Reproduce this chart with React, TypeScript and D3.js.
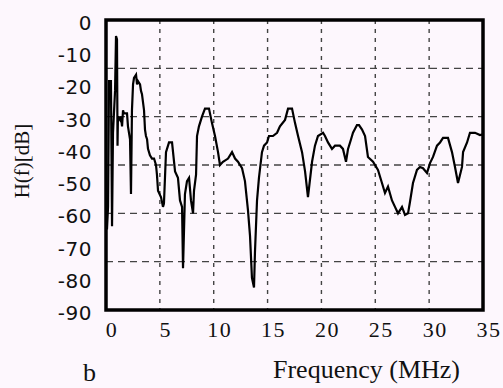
import React from "react";
import * as d3 from "d3";

const freqMHz = [0.09,0.19,0.28,0.46,0.56,0.65,0.84,0.93,1.02,1.07,1.11,1.30,1.39,1.49,1.58,1.67,1.95,2.04,2.23,2.32,2.37,2.41,2.51,2.60,2.79,2.88,2.97,3.16,3.25,3.34,3.53,3.62,3.71,3.81,3.90,4.08,4.27,4.46,4.64,4.73,4.83,5.11,5.29,5.38,5.57,5.85,6.13,6.41,6.68,6.87,7.06,7.15,7.33,7.52,7.71,7.89,8.08,8.17,8.36,8.45,8.63,8.91,9.19,9.56,9.84,10.12,10.40,10.58,10.86,11.33,11.70,11.98,12.25,12.63,12.90,13.18,13.37,13.55,13.74,13.83,14.02,14.20,14.48,14.67,14.95,15.13,15.50,15.88,16.15,16.62,16.90,17.27,17.55,17.83,18.20,18.48,18.75,19.13,19.40,19.68,20.15,20.33,20.61,20.98,21.26,21.72,22.00,22.28,22.47,22.75,22.93,23.30,23.49,23.77,24.05,24.32,24.79,25.25,25.62,25.90,26.18,26.55,26.83,27.11,27.48,27.76,28.04,28.22,28.50,28.87,29.15,29.43,29.80,30.08,30.36,30.73,31.01,31.29,31.75,32.12,32.40,32.68,33.05,33.15,33.52,33.79,34.26,34.72,35.0];
const hDb = [-65,-58,-19,-19,-64,-35,-22,-5,-6,-39,-30,-31,-30,-33,-28,-29,-29,-33,-37,-54,-40,-28,-20,-18,-17,-20,-19,-20,-22,-23,-28,-34,-36,-37,-40,-42,-43,-43,-45,-48,-53,-55,-58,-57,-41,-38,-38,-47,-49,-56,-58,-77,-54,-50,-49,-56,-60,-53,-48,-36,-33,-30,-27.5,-27.5,-32,-36,-41,-45,-44,-43,-41,-43,-44,-46,-50,-59,-67,-80,-83,-72,-56,-49,-41,-39,-38,-36,-36,-35,-33,-31,-27.5,-27.5,-32,-36,-41,-47,-55,-44,-39,-36,-35,-36,-38,-40,-39,-39,-40,-44,-40,-37,-35,-32.6,-32.6,-34,-36,-42.5,-44,-46.5,-50.6,-53.7,-51.7,-56,-58,-60,-58,-60.5,-60,-56.5,-50.6,-46.5,-45.6,-46,-47.5,-44.4,-42.5,-39,-38,-36.6,-36.6,-41,-45.6,-50.6,-45.6,-41,-38,-35,-35,-35.7,-35.5];

const xTicks = [0, 5, 10, 15, 20, 25, 30, 35];
const yTicks = [0, -10, -20, -30, -40, -50, -60, -70, -80, -90];
const xGrid = [5, 10, 15, 20, 25, 30];
const yGrid = [-15, -30, -45, -60, -75];

const W = 503, H = 388;
const L = 106, R = 483, T = 20, B = 310;

export default function App() {
  const x = d3.scaleLinear().domain([0, 35]).range([L, R]);
  const y = d3.scaleLinear().domain([-90, 0]).range([B, T]);
  const pts: [number, number][] = freqMHz.map((f, i) => [f, hDb[i]]);
  const line = d3.line<[number, number]>().x(d => x(d[0])).y(d => y(d[1]));

  return (
    <svg width={W} height={H} style={{ position: "fixed", left: 0, top: 0, display: "block" }}>
      <rect x={0} y={0} width={W} height={H} fill="#fdf7fd" />
      {yGrid.map(v => (
        <line key={"hy" + v} x1={L} x2={R} y1={y(v)} y2={y(v)} stroke="#444" strokeWidth={1.4} strokeDasharray="7,5" />
      ))}
      {xGrid.map(v => (
        <line key={"vx" + v} x1={x(v)} x2={x(v)} y1={T} y2={B} stroke="#444" strokeWidth={1.4} strokeDasharray="4,5" />
      ))}
      <path d={line(pts) || ""} fill="none" stroke="#000" strokeWidth={2.2} strokeLinejoin="miter" />
      <rect x={L} y={T} width={R - L} height={B - T} fill="none" stroke="#000" strokeWidth={3.5} />
      {yTicks.map(v => (
        <text key={"yt" + v} x={92} y={y(v) + 3} textAnchor="end" dominantBaseline="central"
          fontFamily="DejaVu Sans" fontSize={20} letterSpacing={0.5} fill="#111">{v}</text>
      ))}
      {xTicks.map(v => (
        <text key={"xt" + v} x={x(v) + 6} y={337} textAnchor="middle"
          fontFamily="Liberation Serif" fontSize={22} letterSpacing={1.5} fill="#111">{v}</text>
      ))}
      <text transform="translate(29,161) rotate(-90)" textAnchor="middle"
        fontFamily="Liberation Serif" fontSize={21} fill="#111">H(f)[dB]</text>
      <text x={273} y={378} fontFamily="Liberation Serif" fontSize={26} fill="#111">Frequency (MHz)</text>
      <text x={83} y={381} fontFamily="Liberation Serif" fontSize={26} fill="#111">b</text>
    </svg>
  );
}
